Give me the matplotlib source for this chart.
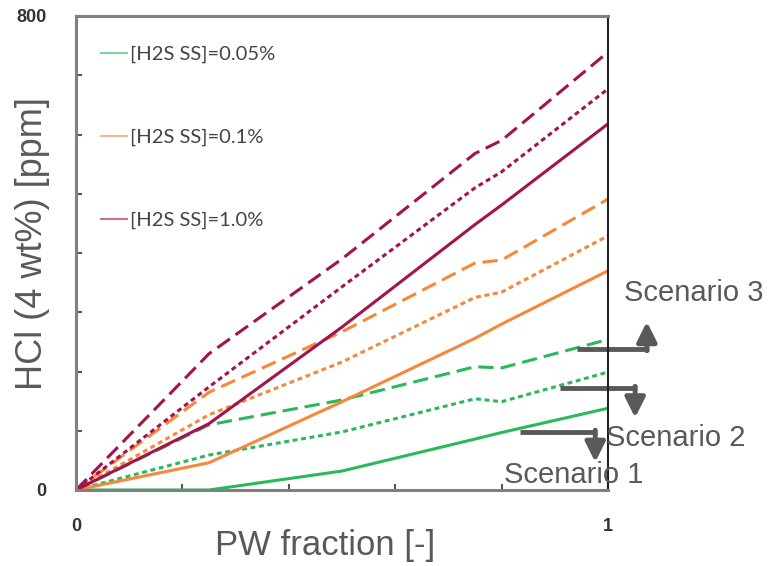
import numpy as np
import matplotlib.pyplot as plt
from matplotlib.lines import Line2D

plt.rcParams['font.family'] = ['Liberation Sans', 'DejaVu Sans']

# PW fraction points
pw = [0, 0.25, 0.5, 0.75, 0.8, 1.0]

# HCl (ppm) per H2S level and scenario (1 = solid, 2 = short dash, 3 = long dash)
h2s_005_s1 = [0, 0, 32, 86, 97, 138]
h2s_005_s2 = [0, 59, 98, 154, 149, 199]
h2s_005_s3 = [0, 110, 152, 208, 206, 254]
h2s_01_s1 = [0, 46, 149, 256, 280, 370]
h2s_01_s2 = [0, 127, 216, 325, 334, 429]
h2s_01_s3 = [0, 165, 267, 383, 388, 491]
h2s_10_s1 = [0, 112, 275, 448, 481, 618]
h2s_10_s2 = [0, 174, 343, 510, 537, 677]
h2s_10_s3 = [0, 230, 390, 568, 590, 739]

labels = ['[H2S SS]=0.05%', '[H2S SS]=0.1%', '[H2S SS]=1.0%']
green, orange, red = '#2bb85c', '#f5883a', '#a3144f'
gray = '#595959'

fig = plt.figure(figsize=(7.75, 5.66), dpi=100)
ax = fig.add_axes([76/775, 1-490/566, 532/775, 474/566])

solid = '-'
short = (0, (1.6, 1.2))
long_ = (0, (5, 2.3))
lw = 2.2

series = [
    (h2s_005_s1, green, solid), (h2s_005_s2, green, short), (h2s_005_s3, green, long_),
    (h2s_01_s1, orange, solid), (h2s_01_s2, orange, short), (h2s_01_s3, orange, long_),
    (h2s_10_s1, red, solid), (h2s_10_s2, red, short), (h2s_10_s3, red, long_),
]
for vals, c, ls in series:
    ax.plot(pw, vals, color=c, linestyle=ls, lw=lw)

ax.set_xlim(0, 1)
ax.set_ylim(0, 800)
ax.set_xticks(np.arange(0, 1.01, 0.2))
ax.set_xticklabels(['0', '', '', '', '', '1'])
ax.set_yticks(np.arange(0, 801, 100))
ax.set_yticklabels(['0'] + [''] * 7 + ['800'])
ax.tick_params(direction='in', length=4, width=1.5, color='#555555')
ax.tick_params(axis='y', pad=21)
ax.tick_params(axis='x', pad=20)
for t in ax.get_xticklabels() + ax.get_yticklabels():
    t.set_fontweight('bold')
    t.set_fontsize(13)
    t.set_color('#333333')

for side in ['left', 'bottom', 'top']:
    ax.spines[side].set_color('#808080')
    ax.spines[side].set_linewidth(2.2)
ax.spines['right'].set_color('#222222')
ax.spines['right'].set_linewidth(1.5)

handles = [Line2D([], [], color=c, lw=1.5, alpha=0.6) for c in [green, orange, red]]
leg = ax.legend(handles, labels, loc='upper left', bbox_to_anchor=(0.012, 0.975),
                frameon=False, handlelength=1.3, handletextpad=0.15,
                labelspacing=3.25, prop={'family': 'Lato', 'size': 14.5})
for t in leg.get_texts():
    t.set_color('#444444')

fig.text(325/775, 1-545/566, 'PW fraction [-]', ha='center', va='center',
         fontsize=25, color=gray)
fig.text(33/775, 1-244/566, 'HCl (4 wt%) [ppm]', ha='center', va='center',
         rotation=90, fontsize=26, color=gray)

# scenario arrows
arrows = [
    ('Scenario 3', 0.942, 1.073, 238, 284, 1.03, 332),
    ('Scenario 2', 0.910, 1.051, 172, 122, 0.997, 88),
    ('Scenario 1', 0.835, 0.976, 98, 47, 0.805, 26),
]
for txt, x0, x1, y0, y1, tx, ty in arrows:
    ax.plot([x0, x1 + 0.004], [y0, y0], color=gray, lw=3.5, clip_on=False,
            solid_capstyle='butt')
    ax.annotate('', xy=(x1, y1), xytext=(x1, y0 - 3 if y1 > y0 else y0 + 3),
                arrowprops=dict(arrowstyle='-|>,head_width=0.6,head_length=1.2',
                                lw=3.5, color=gray, shrinkA=0, shrinkB=0),
                annotation_clip=False)
    ax.text(tx, ty, txt, fontsize=21, color=gray, ha='left', va='center',
            clip_on=False)

fig.savefig('out.png', dpi=100)
